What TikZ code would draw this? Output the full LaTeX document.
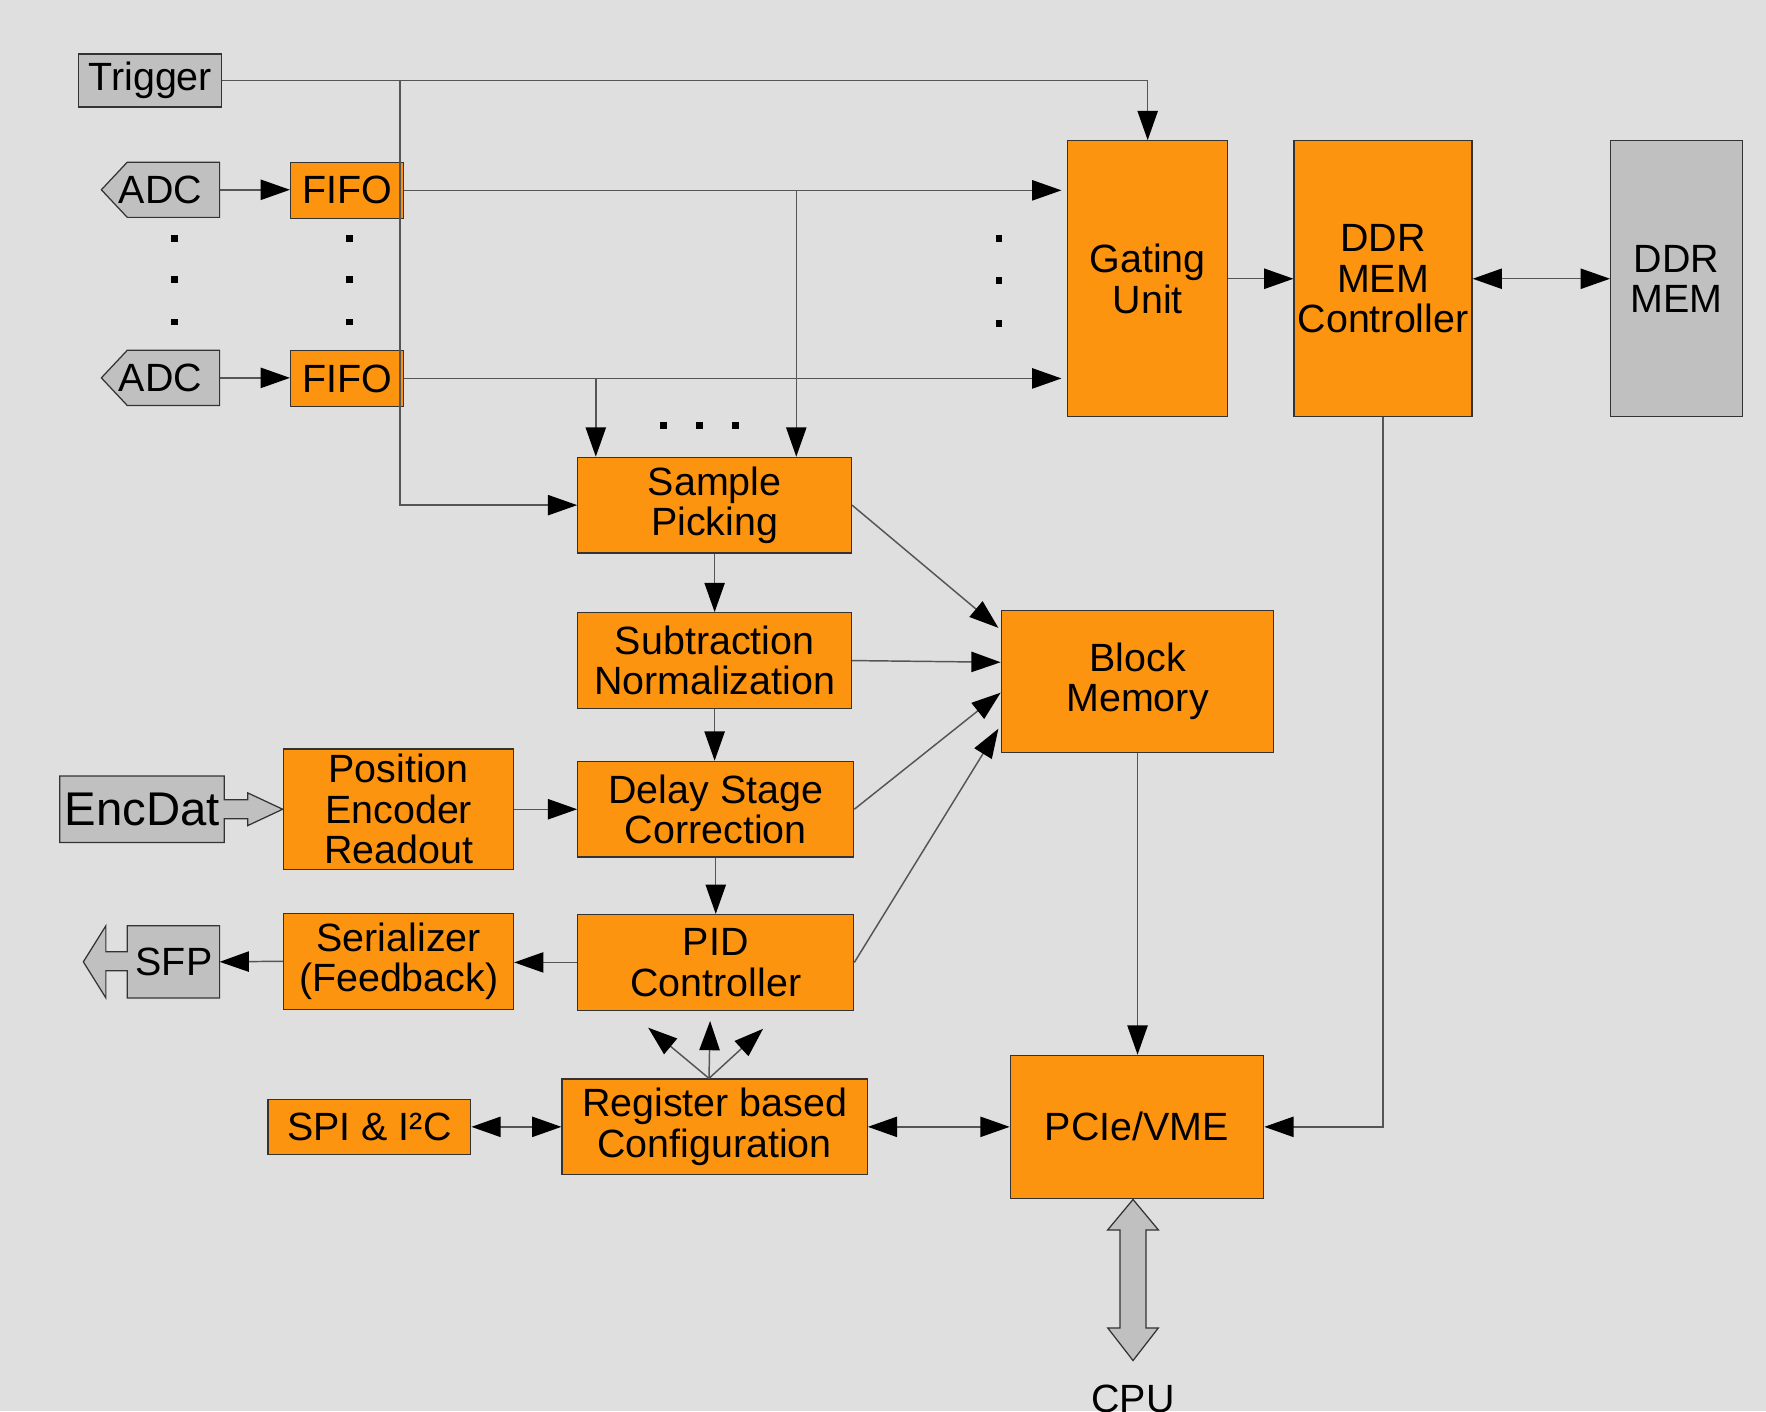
\documentclass[tikz,border=0pt]{standalone}
\usepackage{fontspec}
\setmainfont{Liberation Sans}
\usetikzlibrary{arrows.meta,calc}
\definecolor{bgc}{HTML}{DFDFDF}
\definecolor{orng}{HTML}{FD9410}
\definecolor{gry}{HTML}{C0C0C0}
\definecolor{edgec}{HTML}{333333}
\definecolor{wirec}{HTML}{555555}
\begin{document}
\begin{tikzpicture}[x=1pt,y=-1pt,
  font=\fontsize{35}{36}\selectfont,
  obox/.style={draw=edgec, line width=1.1pt, fill=orng, inner sep=0pt, align=center},
  gbox/.style={draw=edgec, line width=1.1pt, fill=gry, inner sep=0pt, align=center},
  gshape/.style={draw=edgec, line width=1.1pt, fill=gry},
  wire/.style={draw=wirec, line width=1.3pt},
  arr/.style={wire, -{Triangle[length=26pt,width=18pt,color=black]}},
  darr/.style={wire, {Triangle[length=26pt,width=18pt,color=black]}-{Triangle[length=26pt,width=18pt,color=black]}},
  dotsq/.style={fill=black}
]
\fill[bgc] (0,0) rectangle (1568,1253);
\useasboundingbox (0,0) rectangle (1568,1253);

% inputs
\node[gbox, minimum width=127pt, minimum height=47pt] (trig) at (133.5,71.5) {Trigger};
\draw[gshape] (90,168.5) -- (113,144) -- (195,144) -- (195,193) -- (113,193) -- cycle;
\draw[gshape] (90,335.5) -- (113,311) -- (195,311) -- (195,360) -- (113,360) -- cycle;
\node (adc1) at (142.5,168.5) {ADC};
\node (adc2) at (142.5,335.5) {ADC};
\coordinate (adc1e) at (195,168.5);
\coordinate (adc2e) at (195,335.5);
\node[obox, minimum width=100pt, minimum height=50pt] (fifo1) at (308,169) {FIFO};
\node[obox, minimum width=100pt, minimum height=50pt] (fifo2) at (308,336) {FIFO};

% dots
\foreach \yy in {212,248,286} {
  \fill[dotsq] (152,\yy-3) rectangle +(6,6);
  \fill[dotsq] (307,\yy-3) rectangle +(6,6);
}
\foreach \yy in {212,249,287} {
  \fill[dotsq] (884,\yy-3) rectangle +(6,6);
}
\foreach \xx in {589,621,653} {
  \fill[dotsq] (\xx-3,375) rectangle +(6,6);
}

% right column
\node[obox, minimum width=142pt, minimum height=245pt] (gate) at (1019,247.5) {Gating\\Unit};
\node[obox, minimum width=158pt, minimum height=245pt] (ddrc) at (1228,247.5) {DDR\\MEM\\Controller};
\node[gbox, minimum width=117pt, minimum height=245pt] (ddr) at (1488.5,247.5) {DDR\\MEM};

% processing chain
\node[obox, minimum width=243pt, minimum height=85pt] (sp) at (634.5,448.5) {\raisebox{-3pt}{Sample}\\\raisebox{-3pt}{Picking}};
\node[obox, minimum width=243pt, minimum height=85pt] (sub) at (634.5,586.5) {Subtraction\\Normalization};
\node[obox, minimum width=245pt, minimum height=85pt] (dly) at (635.5,718.5) {Delay Stage\\Correction};
\node[obox, minimum width=245pt, minimum height=85pt] (pid) at (635.5,854.5) {PID\\Controller};
\node[obox, minimum width=242pt, minimum height=126pt] (bm) at (1010,605) {Block\\Memory};

\node[obox, minimum width=204pt, minimum height=107pt] (per) at (354,718.5) {Position\\Encoder\\Readout};
\node[obox, minimum width=204pt, minimum height=85pt] (ser) at (354,853.5) {Serializer\\(Feedback)};

\node[obox, minimum width=180pt, minimum height=49pt] (spi) at (328,1000.5) {SPI \& I²C};
\node[obox, minimum width=271pt, minimum height=85pt] (reg) at (634.5,1000.5) {Register based\\Configuration};
\node[obox, minimum width=225pt, minimum height=127pt] (pcie) at (1009.5,1000.5) {PCIe/VME};

% EncDat fat arrow block
\draw[gshape]
  (53,689) -- (199,689) -- (199,710) -- (220,710) -- (220,704) -- (251,718.5)
  -- (220,733) -- (220,727) -- (199,727) -- (199,748) -- (53,748) -- cycle;
\node[font=\fontsize{42}{44}\selectfont] (enc) at (126.5,718.5) {EncDat};

% SFP fat arrow block
\draw[gshape]
  (195,822) -- (195,886) -- (113,886) -- (113,862) -- (94,862) -- (94,886)
  -- (74,854) -- (94,822) -- (94,845) -- (113,845) -- (113,822) -- cycle;
\node (sfp) at (154.5,854) {SFP};
\coordinate (sfpe) at (195,854);

% CPU double arrow
\draw[gshape]
  (1006,1065) -- (1028.5,1092) -- (1017.5,1092) -- (1017.5,1179) -- (1028.5,1179)
  -- (1006,1208) -- (983.5,1179) -- (994.5,1179) -- (994.5,1092) -- (983.5,1092) -- cycle;
\node (cpu) at (1006,1242) {CPU};

% connectors
\coordinate (tj) at (355,71.5);
\coordinate (f1j) at (707,169);
\coordinate (f2j) at (529,336);
\draw[arr] (trig.east) -| (gate.north);
\draw[arr] (tj) |- (sp.west);
\draw[arr] (adc1e) -- (adc1e -| fifo1.west);
\draw[arr] (adc2e) -- (adc2e -| fifo2.west);
\draw[arr, shorten >=5pt] (fifo1.east) -- (fifo1.east -| gate.west);
\draw[arr, shorten >=5pt] (fifo2.east) -- (fifo2.east -| gate.west);
\draw[arr] (f1j) -- (f1j |- sp.north);
\draw[arr] (f2j) -- (f2j |- sp.north);
\draw[arr] (gate.east) -- (ddrc.west);
\draw[darr] (ddrc.east) -- (ddr.west);
\draw[arr] (ddrc.south) |- (pcie.east);

\draw[arr] (sp.south) -- (sp.south |- sub.north);
\draw[arr] (sub.south) -- (sub.south |- dly.north);
\draw[arr] (dly.south) -- (pid.north);

\draw[arr] (sp.east) -- ($(bm.north west)+(-2,16)$);
\draw[arr] (sub.east) -- ($(bm.west)+(0,-17)$);
\draw[arr] (dly.east) -- ($(bm.west)+(0,10)$);
\draw[arr] (pid.east) -- ($(bm.west)+(-2,42)$);

\draw[arr] (per.east) -- (dly.west);
\draw[arr] (pid.west) -- (pid.west -| ser.east);
\draw[arr] (ser.west) -- (sfpe);
\draw[darr] (spi.east) -- (reg.west);
\draw[darr] (reg.east) -- (pcie.west);
\draw[arr] (bm.south) -- (bm.south |- pcie.north);

\coordinate (rf) at ($(reg.north)+(-5,0)$);
\draw[arr] (rf) -- +(-54,-45);
\draw[arr] (rf) -- +(1,-51);
\draw[arr] (rf) -- +(48,-44);
\end{tikzpicture}
\end{document}
